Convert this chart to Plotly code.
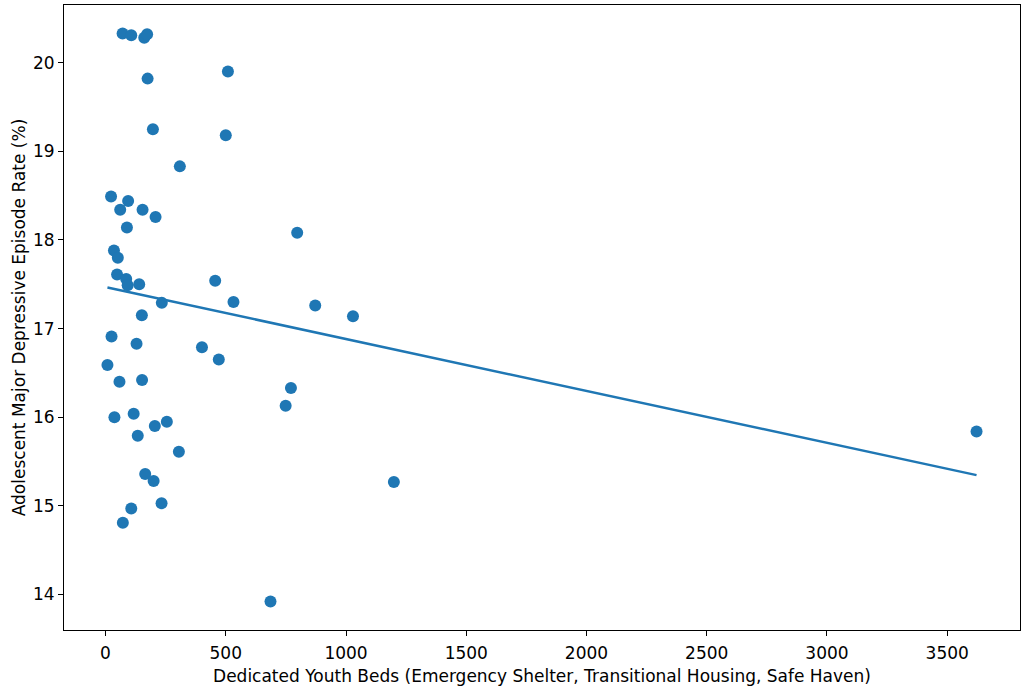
import numpy as np
import plotly.graph_objects as go

# dedicated youth beds per state and adolescent MDE rate (%)
beds = [71, 107, 161, 173, 175, 509, 197, 500, 309, 23, 94, 61, 154, 208, 89,
        797, 35, 51, 48, 86, 92, 140, 456, 234, 532, 872, 1029, 151,
        25, 129, 401, 471, 8, 58, 152, 771, 749, 37, 117, 205, 255, 134,
        305, 165, 200, 233, 107, 72, 686, 1199, 3622]
mde_rate = [20.33, 20.31, 20.28, 20.32, 19.82, 19.90, 19.25, 19.18, 18.83, 18.49,
            18.44, 18.34, 18.34, 18.26, 18.14, 18.08, 17.88, 17.80, 17.61, 17.56,
            17.49, 17.50, 17.54, 17.29, 17.30, 17.26, 17.14, 17.15,
            16.91, 16.83, 16.79, 16.65, 16.59, 16.40, 16.42, 16.33, 16.13, 16.00,
            16.04, 15.90, 15.95, 15.79, 15.61, 15.36, 15.28, 15.03, 14.97, 14.81,
            13.92, 15.27, 15.84]

x = np.array(beds, dtype=float)
y = np.array(mde_rate, dtype=float)
slope, intercept = np.polyfit(x, y, 1)
x_fit = np.array([x.min(), x.max()])
y_fit = slope * x_fit + intercept

blue = '#1f77b4'
font = 'DejaVu Sans, Arial, sans-serif'

fig = go.Figure()
fig.add_trace(go.Scatter(
    x=beds, y=mde_rate, mode='markers',
    marker=dict(color=blue, size=12, line=dict(width=0)),
    showlegend=False
))
fig.add_trace(go.Scatter(
    x=x_fit, y=y_fit, mode='lines',
    line=dict(color=blue, width=2.5),
    showlegend=False
))

span_x = x.max() - x.min()
span_y = y.max() - y.min()

axis_common = dict(
    showgrid=False, zeroline=False,
    showline=True, linecolor='black', linewidth=1, mirror=True,
    ticks='outside', ticklen=5, tickwidth=1, tickcolor='black',
    tickfont=dict(family=font, size=17, color='black'),
)

fig.update_layout(
    width=1024, height=689,
    margin=dict(l=64, r=4, t=5, b=59),
    plot_bgcolor='white', paper_bgcolor='white',
    font=dict(family=font, size=17, color='black'),
    xaxis=dict(
        axis_common,
        range=[x.min() - 0.05 * span_x, x.max() + 0.05 * span_x],
        tickvals=[0, 500, 1000, 1500, 2000, 2500, 3000, 3500],
        ticklabelstandoff=3,
        title=dict(text='Dedicated Youth Beds (Emergency Shelter, Transitional Housing, Safe Haven)',
                   font=dict(family=font, size=17), standoff=7),
    ),
    yaxis=dict(
        axis_common,
        range=[y.min() - 0.05 * span_y, y.max() + 0.05 * span_y],
        tickvals=[14, 15, 16, 17, 18, 19, 20],
        title=dict(text='Adolescent Major Depressive Episode Rate (%)',
                   font=dict(family=font, size=17), standoff=3),
    ),
)

fig.write_html('out.html', config={'displayModeBar': False},
               post_script="document.body.style.margin='0';")
